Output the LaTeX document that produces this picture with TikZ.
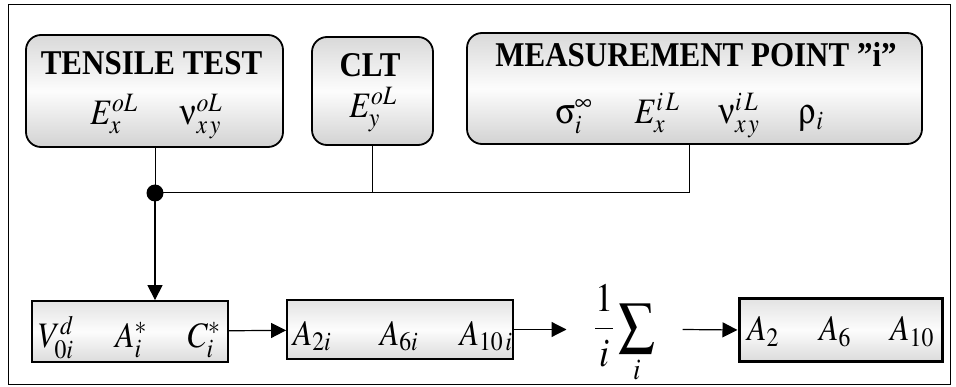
\documentclass[tikz,border=0pt]{standalone}
\usepackage{amsmath}
\usepackage{mathptmx}
\usepackage[Symbol]{upgreek}
\usepackage{fontspec}
\setmainfont{Liberation Serif}
\usetikzlibrary{positioning, arrows.meta}
\newcommand{\tallbox}[1]{\scalebox{1}[1.12]{#1}}

\begin{document}
\begin{tikzpicture}[x=1pt, y=-1pt, line width=1pt,
  srcbox/.style={draw, line width=1.8pt, rounded corners=15pt, top color=gray!30, bottom color=gray!35, middle color=gray!2, inner sep=0pt},
  calcbox/.style={draw, line width=1.8pt, top color=gray!22, bottom color=gray!28, middle color=gray!2, inner sep=0pt},
  head/.style={font=\fontsize{31}{34}\selectfont\bfseries, anchor=base, inner sep=0pt},
  mathrow/.style={font=\fontsize{32}{34}\selectfont, anchor=base, inner sep=0pt},
  flow/.style={-{Triangle[length=15pt, width=15pt]}, line width=1.2pt}]
  \useasboundingbox (0,0) rectangle (956,387);
  % outer frame
  \draw[line width=1pt] (8,5) rectangle (950,384);

  % data sources (rounded boxes)
  \node[srcbox, minimum width=257pt, minimum height=112pt] (tens) at (154.5,91) {};
  \node[srcbox, minimum width=121pt, minimum height=108pt] (clt) at (372.5,91) {};
  \node[srcbox, minimum width=455pt, minimum height=111pt] (meas) at (694.5,88.5) {};
  \node[head] (tensT) at (151.5,75) {\tallbox{TENSILE TEST}};
  \node[head] (cltT) at (370,77) {\tallbox{CLT}};
  \node[head] (measT) at (696,67) {\tallbox{MEASUREMENT POINT ''i''}};
  \node[mathrow] (tensE) at (114,125) {\tallbox{$E_x^{oL}$}};
  \node[mathrow] (tensN) at (201,125) {\tallbox{$\upnu_{x\,y}^{oL}$}};
  \node[mathrow] (cltE) at (373,118) {\tallbox{$E_y^{oL}$}};
  \foreach \x/\t [count=\k] in {574/{\upsigma_i^{\infty}}, 657/{E_x^{i\,L}}, 739/{\upnu_{x\,y}^{i\,L}}, 811/{\uprho_i}}
    \node[mathrow] (measV\k) at (\x,124) {\tallbox{$\t$}};

  % calculation chain
  \node[calcbox, minimum width=196pt, minimum height=61pt] (vac) at (130,331.5) {};
  \node[calcbox, minimum width=226pt, minimum height=59pt] (ai) at (400,329.5) {};
  \node[calcbox, line width=3pt, minimum width=203pt, minimum height=62pt] (res) at (840.5,330) {};
  \foreach \x/\t [count=\k] in {56/{V_{0i}^{d}}, 131/{A_i^{*}}, 204/{C_i^{*}}}
    \node[mathrow] (vacV\k) at (\x,348) {\tallbox{$\t$}};
  \foreach \x/\t [count=\k] in {312/{A_{2i}}, 399/{A_{6i}}, 486/{A_{10\,i}}}
    \node[mathrow] (aiV\k) at (\x,345) {\tallbox{$\t$}};
  \foreach \x/\t [count=\k] in {763/{A_{2}}, 835/{A_{6}}, 912/{A_{10}}}
    \node[mathrow] (resV\k) at (\x,341) {\tallbox{$\t$}};
  \node[font=\fontsize{36}{38}\selectfont, minimum width=115pt, inner sep=0pt] (avg) at (624.5,334)
    {\tallbox{$\displaystyle\frac{1}{i}\sum_{i}$}};

  % connectors
  \coordinate (dot) at (155,193);
  \coordinate (cltj) at (clt.south |- dot);
  \coordinate (measj) at (689,193);
  \draw (tens.south -| dot) -- (dot);
  \draw (dot) -- (measj);
  \draw (clt.south) -- (cltj);
  \draw (measj |- meas.south) -- (measj);
  \fill (dot) circle (8.5pt);
  \draw[flow] (dot) -- (vac.north -| dot);
  \draw[flow] (vac) -- (ai);
  \draw[flow] (ai.east) -- (avg.west |- ai.east);
  \draw[flow] (avg.east |- ai.east) -- (res.west);
\end{tikzpicture}
\end{document}
